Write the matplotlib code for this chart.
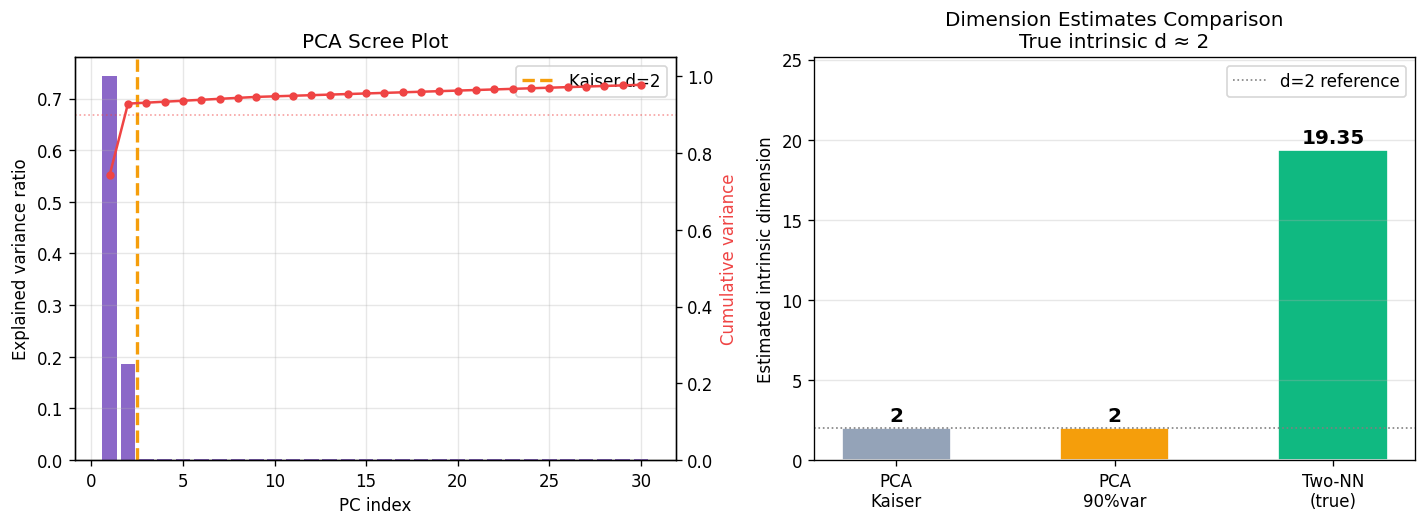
import numpy as np
import matplotlib
matplotlib.use("Agg")
import matplotlib.pyplot as plt

# ---- data ----
pc_index = list(range(1, 31))
explained = [0.743, 0.186] + [0.0025] * 7 + [0.0015] * 21
kaiser_d = 2
var_threshold = 0.90

methods = ["PCA\nKaiser", "PCA\n90%var", "Two-NN\n(true)"]
estimates = [2, 2, 19.35]
method_colors = ["#94a3b8", "#f59e0b", "#10b981"]
true_d = 2

cumulative = np.cumsum(explained)

fig, axes = plt.subplots(1, 2, figsize=(11.89, 4.39), dpi=120)

# ----- scree plot -----
ax = axes[0]
ax.bar(pc_index, explained, color="#7e57c2", alpha=0.9, width=0.8)
ax.axvline(kaiser_d + 0.5, color="#f59e0b", ls="--", lw=2,
           label=f"Kaiser d={kaiser_d}")
ax.set_xlabel("PC index")
ax.set_ylabel("Explained variance ratio")
ax.set_title("PCA Scree Plot")
ax.grid(alpha=0.3)
ax.legend(loc="upper right")

ax2 = ax.twinx()
ax2.plot(pc_index, cumulative, "o-", color="#ef4444", ms=4, lw=1.5)
ax2.axhline(var_threshold, color="#ef4444", ls=":", lw=1, alpha=0.5)
ax2.set_ylim(0, 1.05)
ax2.set_ylabel("Cumulative variance", color="#ef4444")

# ----- estimates comparison -----
ax = axes[1]
x = np.arange(len(methods))
bars = ax.bar(x, estimates, color=method_colors, width=0.5,
              edgecolor="white", linewidth=1)
ax.axhline(true_d, color="gray", ls=":", lw=1, label=f"d={true_d} reference")
for b, v in zip(bars, estimates):
    txt = f"{v:g}" if float(v).is_integer() else f"{v:.2f}"
    ax.text(b.get_x() + b.get_width() / 2, v + 0.2, txt,
            ha="center", va="bottom", fontweight="bold", fontsize=12)
ax.set_xticks(x)
ax.set_xticklabels(methods)
ax.set_ylim(0, max(estimates) * 1.3)
ax.set_ylabel("Estimated intrinsic dimension")
ax.set_title(f"Dimension Estimates Comparison\nTrue intrinsic d \u2248 {true_d}")
ax.grid(axis="y", alpha=0.3)
ax.legend(loc="upper right")

plt.subplots_adjust(left=0.0526, right=0.9916, bottom=0.1252, top=0.8899,
                    wspace=0.231)
plt.savefig("out.png", dpi=120)
plt.close()
